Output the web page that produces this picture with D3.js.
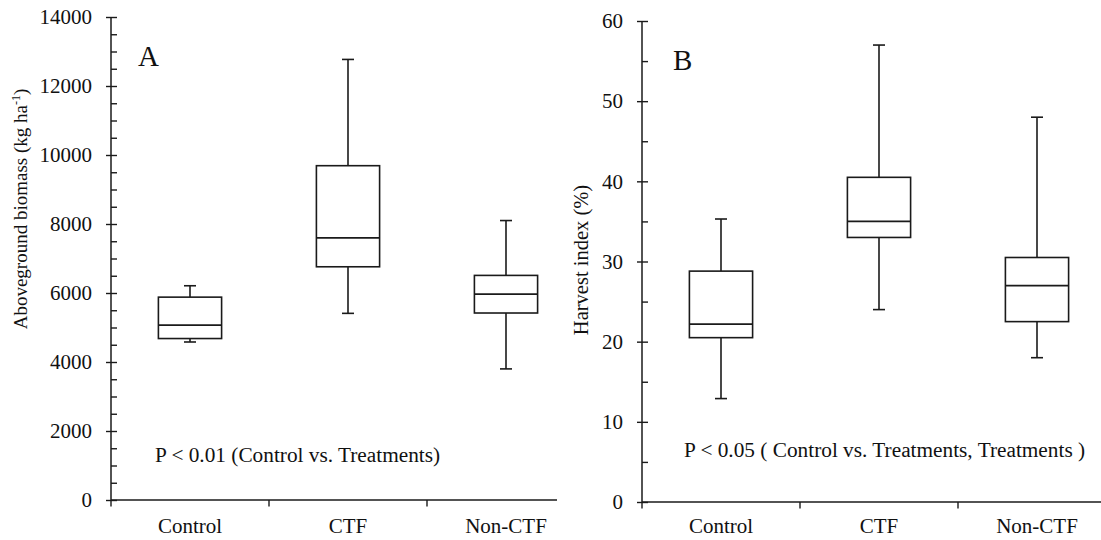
<!DOCTYPE html>
<html>
<head>
<meta charset="utf-8">
<script src="https://cdn.jsdelivr.net/npm/d3@7"></script>
<style>
  html, body { margin: 0; padding: 0; background: #fff; }
  svg { display: block; }
  text { font-family: "Liberation Serif", "Times New Roman", serif; fill: #111; }
</style>
</head>
<body>
<svg id="chart" width="1101" height="540"></svg>
<script>
// Treatment groups shared by both panels
const categories = ["Control", "CTF", "Non-CTF"];

// Panel A: aboveground biomass (kg ha-1), five-number summaries
const biomassMin    = [4580, 5410, 3800];
const biomassQ1     = [4680, 6760, 5420];
const biomassMedian = [5070, 7600, 5970];
const biomassQ3     = [5880, 9690, 6510];
const biomassMax    = [6210, 12770, 8100];

// Panel B: harvest index (%), five-number summaries
const hiMin    = [12.9, 24.0, 18.0];
const hiQ1     = [20.5, 33.0, 22.5];
const hiMedian = [22.2, 35.0, 27.0];
const hiQ3     = [28.8, 40.5, 30.5];
const hiMax    = [35.3, 57.0, 48.0];

// Axis ticks
const biomassTicks = [0, 2000, 4000, 6000, 8000, 10000, 12000, 14000];
const biomassMinorStep = 500;
const hiTicks = [0, 10, 20, 30, 40, 50, 60];
const hiMinorStep = 5;

const svg = d3.select("#chart");
const STROKE = "#1a1a1a";

function buildRows(mins, q1s, meds, q3s, maxs) {
  return categories.map((c, i) => ({
    cat: c, min: mins[i], q1: q1s[i], med: meds[i], q3: q3s[i], max: maxs[i]
  }));
}

function drawPanel(opt) {
  const g = svg.append("g");
  const x = d3.scaleBand().domain(categories).range(opt.xRange).padding(0);
  const y = d3.scaleLinear().domain(opt.yDomain).range(opt.yRange);
  const axisX0 = opt.xRange[0];
  const yBase = y(opt.yDomain[0]);

  // minor ticks (inside, every half step)
  const minor = d3.range(opt.yDomain[0], opt.yDomain[1] + 1e-9, opt.minorStep);
  g.append("g")
    .attr("transform", `translate(${axisX0},0)`)
    .call(d3.axisRight(y).tickValues(minor).tickSize(6).tickFormat(""))
    .call(s => s.select(".domain").remove())
    .call(s => s.selectAll("line").attr("stroke", STROKE).attr("stroke-width", 1.4));

  // major ticks with labels (outside)
  g.append("g")
    .attr("transform", `translate(${axisX0},0)`)
    .call(d3.axisLeft(y).tickValues(opt.ticks).tickSize(5).tickPadding(14).tickFormat(d3.format("d")))
    .call(s => s.select(".domain").remove())
    .call(s => s.selectAll("line").attr("stroke", STROKE).attr("stroke-width", 1.4))
    .call(s => s.selectAll("text")
      .style("font-family", '"Liberation Serif", "Times New Roman", serif')
      .style("font-size", "21px").attr("fill", "#111"));

  // y-axis line
  g.append("line")
    .attr("x1", axisX0).attr("x2", axisX0)
    .attr("y1", y(opt.yDomain[1])).attr("y2", yBase)
    .attr("stroke", STROKE).attr("stroke-width", 1.5);

  // x-axis line and ticks at band boundaries
  g.append("line")
    .attr("x1", axisX0).attr("x2", opt.xAxisEnd)
    .attr("y1", yBase).attr("y2", yBase)
    .attr("stroke", STROKE).attr("stroke-width", 1.5);
  g.selectAll(".xtick").data(categories).join("line")
    .attr("class", "xtick")
    .attr("x1", d => x(d)).attr("x2", d => x(d))
    .attr("y1", yBase).attr("y2", yBase + 6.5)
    .attr("stroke", STROKE).attr("stroke-width", 1.4);

  // category labels
  g.selectAll(".xlab").data(categories).join("text")
    .attr("class", "xlab")
    .attr("x", d => x(d) + x.bandwidth() / 2)
    .attr("y", 533)
    .attr("text-anchor", "middle")
    .style("font-size", "21px")
    .text(d => d);

  // box plots
  const bw = x.bandwidth() * 0.4;
  const capW = 12;
  const boxes = g.selectAll(".box").data(opt.rows).join("g").attr("class", "box")
    .attr("transform", d => `translate(${x(d.cat) + x.bandwidth() / 2},0)`);

  boxes.append("line") // upper whisker
    .attr("x1", 0).attr("x2", 0).attr("y1", d => y(d.q3)).attr("y2", d => y(d.max))
    .attr("stroke", STROKE).attr("stroke-width", 1.6);
  boxes.append("line") // lower whisker
    .attr("x1", 0).attr("x2", 0).attr("y1", d => y(d.q1)).attr("y2", d => y(d.min))
    .attr("stroke", STROKE).attr("stroke-width", 1.6);
  boxes.append("line") // top cap
    .attr("x1", -capW / 2).attr("x2", capW / 2).attr("y1", d => y(d.max)).attr("y2", d => y(d.max))
    .attr("stroke", STROKE).attr("stroke-width", 1.6);
  boxes.append("line") // bottom cap
    .attr("x1", -capW / 2).attr("x2", capW / 2).attr("y1", d => y(d.min)).attr("y2", d => y(d.min))
    .attr("stroke", STROKE).attr("stroke-width", 1.6);
  boxes.append("rect")
    .attr("x", -bw / 2).attr("width", bw)
    .attr("y", d => y(d.q3)).attr("height", d => y(d.q1) - y(d.q3))
    .attr("fill", "#fff").attr("stroke", STROKE).attr("stroke-width", 1.6);
  boxes.append("line") // median
    .attr("x1", -bw / 2).attr("x2", bw / 2).attr("y1", d => y(d.med)).attr("y2", d => y(d.med))
    .attr("stroke", STROKE).attr("stroke-width", 1.8);

  // panel letter
  g.append("text")
    .attr("x", opt.letterPos[0]).attr("y", opt.letterPos[1])
    .style("font-size", "29px").text(opt.letter);

  // significance note
  g.append("text")
    .attr("x", opt.notePos[0]).attr("y", opt.notePos[1])
    .style("font-size", "21.3px").text(opt.note);

  // y-axis title
  const t = g.append("text")
    .attr("transform", `translate(${opt.titlePos[0]},${opt.titlePos[1]}) rotate(-90)`)
    .attr("text-anchor", "middle")
    .style("font-size", opt.titleSize);
  opt.title(t);
}

drawPanel({
  xRange: [111, 585], xAxisEnd: 557,
  yDomain: [0, 14000], yRange: [500, 17],
  ticks: biomassTicks, minorStep: biomassMinorStep,
  rows: buildRows(biomassMin, biomassQ1, biomassMedian, biomassQ3, biomassMax),
  letter: "A", letterPos: [138, 66],
  note: "P < 0.01 (Control vs. Treatments)", notePos: [155, 462],
  titlePos: [27, 209], titleSize: "19px",
  title: t => {
    t.append("tspan").text("Aboveground biomass (kg ha");
    t.append("tspan").attr("dy", -7).style("font-size", "12px").text("-1");
    t.append("tspan").attr("dy", 7).text(")");
  }
});

drawPanel({
  xRange: [642, 1116], xAxisEnd: 1101,
  yDomain: [0, 60], yRange: [502, 21],
  ticks: hiTicks, minorStep: hiMinorStep,
  rows: buildRows(hiMin, hiQ1, hiMedian, hiQ3, hiMax),
  letter: "B", letterPos: [673, 70],
  note: "P < 0.05 ( Control vs. Treatments, Treatments )", notePos: [684, 457],
  titlePos: [588, 260], titleSize: "20.5px",
  title: t => { t.text("Harvest index (%)"); }
});
</script>
</body>
</html>
